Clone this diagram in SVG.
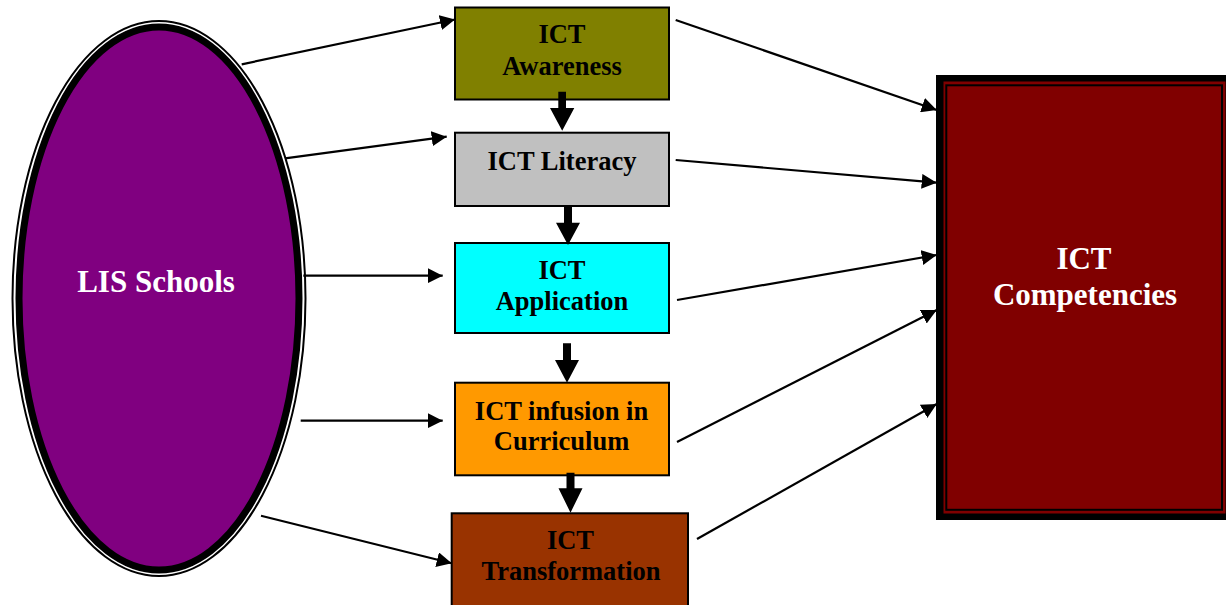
<svg xmlns="http://www.w3.org/2000/svg" width="1226" height="605" viewBox="0 0 1226 605">
  <style>
    .box { stroke: #000; stroke-width: 2; }
    .lbl { font-family: "Liberation Serif", "Times New Roman", serif; font-weight: bold; font-size: 26.5px; fill: #000; text-anchor: middle; }
    .big { font-family: "Liberation Serif", "Times New Roman", serif; font-weight: bold; font-size: 31px; fill: #fff; text-anchor: middle; }
    .conn { stroke: #000; stroke-width: 2.2; fill: none; marker-end: url(#tri); }
    .step { fill: #000; }
  </style>
  <defs>
    <marker id="tri" markerUnits="userSpaceOnUse" markerWidth="15" markerHeight="15" viewBox="0 0 15 15" refX="15" refY="7.5" orient="auto">
      <path d="M0,0 L15,7.5 L0,15 z" fill="#000"/>
    </marker>
  </defs>

  <rect width="1226" height="605" fill="#fff"/>

  <!-- source ellipse with thin-thick double outline -->
  <g id="lis-schools">
    <ellipse cx="159" cy="298.5" rx="146.5" ry="277.5" fill="#fff" stroke="#000" stroke-width="2"/>
    <ellipse cx="159" cy="298.5" rx="140" ry="271.5" fill="#800080" stroke="#000" stroke-width="7"/>
    <text class="big" x="156" y="292">LIS Schools</text>
  </g>

  <!-- target frame with thick-thin border -->
  <g id="ict-competencies">
    <rect x="936" y="75" width="297" height="445" fill="#000"/>
    <rect x="943.5" y="81.5" width="282" height="432" fill="#800000"/>
    <rect x="946.3" y="85.3" width="275.7" height="424.5" fill="#800000" stroke="#000" stroke-width="2"/>
    <text class="big" x="1084" y="269">ICT</text>
    <text class="big" x="1085" y="305">Competencies</text>
  </g>

  <!-- stage boxes -->
  <g id="ict-awareness">
    <rect class="box" x="455" y="7.5" width="214" height="92" fill="#808000"/>
    <text class="lbl" x="562" y="43">ICT</text>
    <text class="lbl" x="562" y="75">Awareness</text>
  </g>
  <g id="ict-literacy">
    <rect class="box" x="455" y="132.7" width="214" height="73.3" fill="#C0C0C0"/>
    <text class="lbl" x="562" y="170">ICT Literacy</text>
  </g>
  <g id="ict-application">
    <rect class="box" x="455" y="243" width="214" height="90" fill="#00FFFF"/>
    <text class="lbl" x="562" y="278.5">ICT</text>
    <text class="lbl" x="562" y="310">Application</text>
  </g>
  <g id="ict-infusion">
    <rect class="box" x="455" y="382.7" width="214" height="92.6" fill="#FF9900"/>
    <text class="lbl" x="561.5" y="419.5">ICT infusion in</text>
    <text class="lbl" x="561.5" y="450">Curriculum</text>
  </g>
  <g id="ict-transformation">
    <rect class="box" x="451.7" y="513.3" width="236.3" height="100" fill="#993300"/>
    <text class="lbl" x="570.5" y="548.5">ICT</text>
    <text class="lbl" x="571" y="580">Transformation</text>
  </g>

  <!-- connectors -->
  <g id="connectors">
    <line class="conn" x1="241.7" y1="64.3" x2="455" y2="19.5"/>
    <line class="conn" x1="285" y1="158.3" x2="446.7" y2="136.7"/>
    <line class="conn" x1="303.3" y1="275.7" x2="442.7" y2="275.7"/>
    <line class="conn" x1="300.7" y1="420.7" x2="442.7" y2="420.7"/>
    <line class="conn" x1="261" y1="515.7" x2="451.7" y2="563.3"/>

    <line class="conn" x1="675.7" y1="20" x2="936.7" y2="110"/>
    <line class="conn" x1="675.7" y1="160" x2="936.7" y2="182.7"/>
    <line class="conn" x1="677" y1="300" x2="936.7" y2="255"/>
    <line class="conn" x1="677" y1="442" x2="936.7" y2="310"/>
    <line class="conn" x1="697" y1="539" x2="936.7" y2="404"/>

    <polygon class="step" points="558.3,91.7 566,91.7 566,108 574.3,108 562.2,130.7 550,108 558.3,108"/>
    <polygon class="step" points="564,206 572,206 572,222.7 580,222.7 568,245 556,222.7 564,222.7"/>
    <polygon class="step" points="563,343.3 571,343.3 571,360 579,360 567,382.7 555,360 563,360"/>
    <polygon class="step" points="566.5,472.7 574.5,472.7 574.5,488.3 582.5,488.3 570.5,512.7 558.5,488.3 566.5,488.3"/>
  </g>
</svg>
